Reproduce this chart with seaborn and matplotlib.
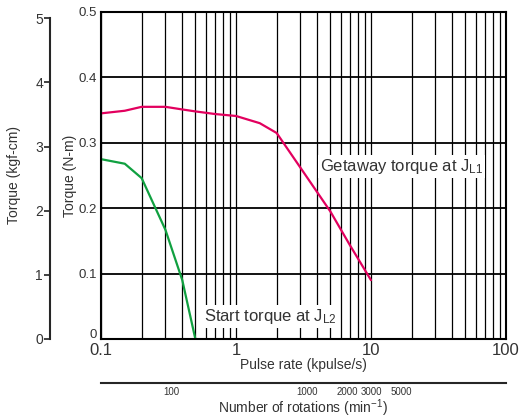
import numpy as np
import matplotlib
matplotlib.use("Agg")
import matplotlib.pyplot as plt
import matplotlib.transforms as mtransforms
import seaborn as sns
from matplotlib.ticker import FuncFormatter, NullLocator, NullFormatter, FixedLocator

# ---------------------------------------------------------------------------
# Data
# ---------------------------------------------------------------------------
pulse_getaway = [0.1, 0.15, 0.2, 0.3, 0.4, 0.5, 0.7, 1, 1.5, 2, 3, 5, 7, 10]
torque_getaway = [0.345, 0.349, 0.355, 0.355, 0.351, 0.348, 0.344, 0.341,
                  0.330, 0.315, 0.262, 0.195, 0.143, 0.09]

pulse_start = [0.1, 0.15, 0.2, 0.3, 0.4, 0.5]
torque_start = [0.275, 0.268, 0.246, 0.167, 0.09, 0.0]

x_ticks = [0.1, 1, 10, 100]
y_ticks = [0, 0.1, 0.2, 0.3, 0.4, 0.5]
kgf_ticks = [0, 1, 2, 3, 4, 5]
rpm_ticks = [100, 1000, 2000, 3000, 5000]

RPM_PER_KPPS = 300.0      # 1.8 deg step motor
KGFCM_PER_NM = 10.197

red = "#e2005e"
green = "#10a040"
txt = "#333333"

sns.set_style("white")
plt.rcParams["font.family"] = ["Liberation Sans", "DejaVu Sans"]
plt.rcParams["mathtext.fontset"] = "custom"
plt.rcParams["mathtext.rm"] = "Liberation Sans"

fig = plt.figure(figsize=(5.2, 4.2), dpi=100)
ax = fig.add_axes([101 / 520, 1 - 339 / 420, 405 / 520, 327 / 420])

sns.lineplot(x=pulse_getaway, y=torque_getaway, ax=ax, color=red, lw=1.6)
sns.lineplot(x=pulse_start, y=torque_start, ax=ax, color=green, lw=1.6)

ax.set_xscale("log")
ax.set_xlim(0.1, 100)
ax.set_ylim(0, 0.5)

# grid: every log position vertically, 0.1 steps horizontally
ax.grid(True, which="both", axis="x", color="black", lw=0.9)
ax.grid(True, which="major", axis="y", color="black", lw=1.3)
ax.set_axisbelow(True)

ax.xaxis.set_major_locator(FixedLocator(x_ticks))
ax.xaxis.set_major_formatter(FuncFormatter(lambda v, p: f"{v:g}"))
ax.xaxis.set_minor_formatter(NullFormatter())
ax.yaxis.set_major_locator(FixedLocator(y_ticks))
ax.yaxis.set_major_formatter(FuncFormatter(lambda v, p: f"{v:g}"))
ax.tick_params(axis="x", which="both", length=0, pad=3, labelsize=12, colors=txt)
ax.tick_params(axis="y", which="both", length=0, pad=3, labelsize=9.5, colors=txt)

# lift the "0" label a little so it clears "0.1" below, as in the original
zero_lbl = ax.get_yticklabels()[0]
zero_lbl.set_transform(zero_lbl.get_transform()
                       + mtransforms.ScaledTranslation(0, 5 / 100, fig.dpi_scale_trans))

for s in ax.spines.values():
    s.set_color("black")
    s.set_linewidth(1.5)

ax.set_xlabel("Pulse rate (kpulse/s)", fontsize=10, color=txt, labelpad=0)
ax.set_ylabel("Torque (N-m)", fontsize=10, color=txt, labelpad=1)

# curve labels
box = dict(facecolor="white", edgecolor="none", pad=1.5)
ax.text(4.2, 0.263, r"Getaway torque at J$\mathregular{_{L1}}$", fontsize=12,
        color=txt, ha="left", va="center", bbox=box)
ax.text(0.58, 0.035, r"Start torque at J$\mathregular{_{L2}}$", fontsize=12,
        color=txt, ha="left", va="center", bbox=box)

# secondary left axis: kgf-cm
sec_y = ax.secondary_yaxis(-0.126, functions=(lambda v: v * KGFCM_PER_NM,
                                              lambda v: v / KGFCM_PER_NM))
sec_y.set_yticks(kgf_ticks)
sec_y.yaxis.set_major_formatter(FuncFormatter(lambda v, p: f"{v:g}"))
sec_y.tick_params(length=4, width=1.3, pad=1, labelsize=10, colors=txt)
sec_y.spines["left"].set_linewidth(1.5)
sec_y.spines["left"].set_bounds(0, 5)
sec_y.set_ylabel("Torque (kgf-cm)", fontsize=10, color=txt, labelpad=10)

# secondary bottom axis: rpm
sec_x = ax.secondary_xaxis(-0.135, functions=(lambda v: v * RPM_PER_KPPS,
                                              lambda v: v / RPM_PER_KPPS))
sec_x.xaxis.set_major_locator(FixedLocator(rpm_ticks))
sec_x.xaxis.set_major_formatter(FuncFormatter(lambda v, p: f"{v:g}"))
sec_x.xaxis.set_minor_locator(NullLocator())
sec_x.tick_params(length=0, pad=3, labelsize=7, colors=txt)
sec_x.spines["bottom"].set_linewidth(1.5)
sec_x.set_xlabel("Number of rotations (min$^{-1}$)", fontsize=10, color=txt, labelpad=0)

fig.savefig("out.png", dpi=100)
